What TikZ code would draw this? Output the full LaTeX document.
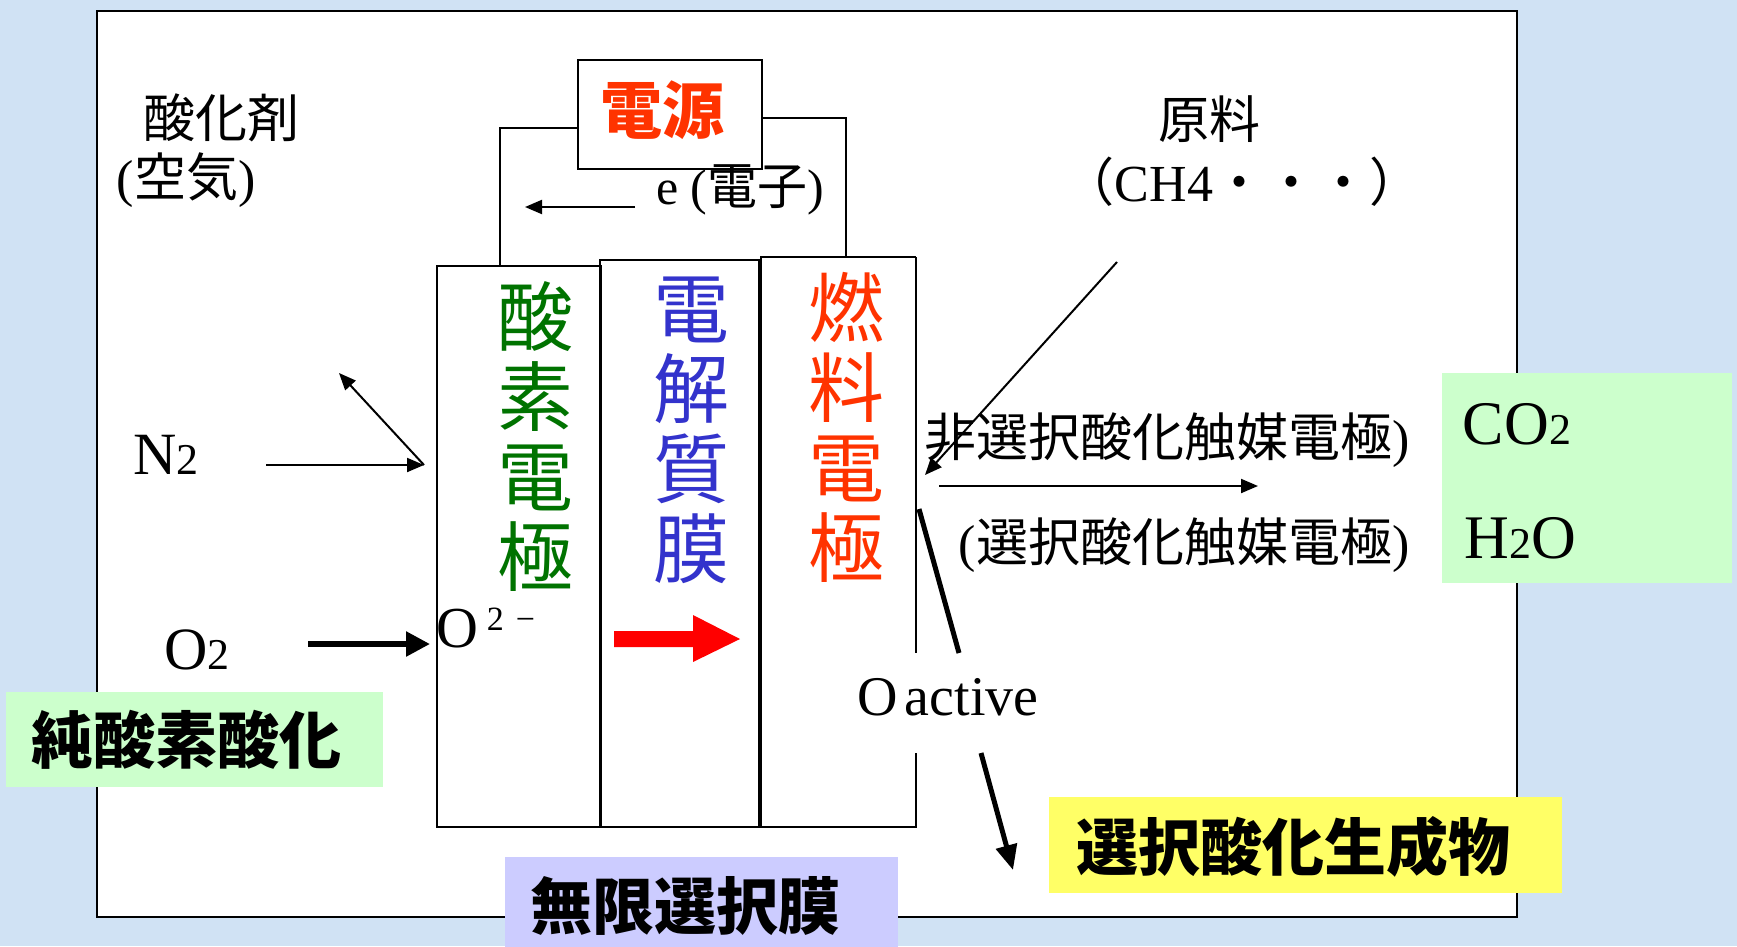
\documentclass[tikz,border=0pt]{standalone}
\usepackage{fontspec}
\setmainfont{Liberation Serif}
\newfontfamily\cjk{Noto Sans CJK JP}
\usetikzlibrary{arrows.meta}
\definecolor{bgblue}{RGB}{208,226,244}
\definecolor{sgreen}{RGB}{0,115,0}
\definecolor{sblue}{RGB}{51,51,204}
\definecolor{sred}{RGB}{255,51,0}
\definecolor{lgreen}{RGB}{204,255,204}
\definecolor{lpurple}{RGB}{204,204,255}
\definecolor{lyellow}{RGB}{255,255,102}
\newcommand{\myfs}[1]{\fontsize{#1pt}{#1pt}\selectfont}
\begin{document}
\begin{tikzpicture}[x=1pt,y=-1pt,
  every node/.style={inner sep=0pt, outer sep=0pt},
  cellbox/.style={line width=1.8pt},
  wire/.style={line width=1.8pt},
  thinarrow/.style={line width=2pt, -{Triangle[length=17pt,width=14pt]}},
  thickarrow/.style={line width=5.5pt, -{Triangle[length=24pt,width=24pt]}},
  vtext/.style={align=center, font=\cjk\fontsize{76pt}{80pt}\selectfont},
  tag/.style={font=\cjk\bfseries\myfs{62}},
  serif/.style={font=\myfs{#1}}]
\useasboundingbox (0,0) rectangle (1737,946);
\fill[bgblue] (0,0) rectangle (1737,946);
\draw[line width=2pt, fill=white] (97,11) rectangle (1517,917);

% power source
\node[draw, line width=1.8pt, minimum width=184pt, minimum height=109pt] (dengen) at (670,114.5) {};
\node[font=\cjk\bfseries\myfs{62}, text=sred] (dengentxt) at (662,110) {電源};

% cells
\node[draw, cellbox, minimum width=164pt, minimum height=561pt] (sanso) at (519,546.5) {};
\node[draw, cellbox, minimum width=159pt, minimum height=567pt] (denkai) at (679.5,543.5) {};
\node[cellbox, minimum width=155pt, minimum height=570pt] (nenryo) at (838.5,542) {};
\draw[cellbox] (nenryo.north east) -- (nenryo.north west) -- (nenryo.south west) -- (nenryo.south east) -- ++(0,-74);
\draw[cellbox] (nenryo.north east) -- ++(0,396);

\node[vtext, text=sgreen] (t1) at (535,436) {酸\\素\\電\\極};
\node[vtext, text=sblue] (t2) at (691,430) {電\\解\\質\\膜};
\node[vtext, text=sred] (t3) at (846,427) {燃\\料\\電\\極};

% wires
\draw[wire] ([yshift=-13.5pt]dengen.west) -| ([xshift=-19pt]sanso.north);
\draw[wire] ([yshift=-3.5pt]dengen.east) -| ([xshift=7.5pt]nenryo.north);

% electron
\coordinate (ea) at (635,207);
\coordinate (eb) at (525,207);
\draw[thinarrow] (ea) -- (eb);
\node[serif=50] (elab) at (740,190) {e ({\cjk 電子})};

% labels
\node[font=\cjk\myfs{52}] (oxid) at (221,118) {酸化剤};
\node[serif=52] (air) at (186,180) {({\cjk 空気})};
\node[font=\cjk\myfs{51}] (genryo) at (1209,119) {原料};
\node[serif=52] (ch4) at (1242,182) {{\cjk （}CH4{\cjk ・・・）}};

% N2
\node[serif=60] (n2) at (166,455) {N{\myfs{44}2}};
\coordinate (n2a) at (266,465);
\coordinate (n2b) at (424,465);
\coordinate (n2c) at (339,373);
\draw[thinarrow] (n2a) -- (n2b);
\draw[thinarrow] (n2b) -- (n2c);

% O2
\node[serif=60] (o2) at (197,650) {O{\myfs{44}2}};
\coordinate (o2a) at (308,644);
\coordinate (o2b) at (430,644);
\draw[thickarrow] (o2a) -- (o2b);
\node[anchor=base west, serif=58] (oion) at (436,647) {O\hspace{9pt}\raisebox{17pt}{\myfs{34}2\hspace{12pt}−}};

% red arrow
\fill[red] (614,631) -- (693,631) -- (693,615) -- (740,639) -- (693,662) -- (693,647) -- (614,647) -- cycle;

% fuel side
\coordinate (fa) at (1117,262);
\coordinate (fb) at (925,475);
\draw[thinarrow] (fa) -- (fb);
\node[serif=52] (nonsel) at (1167,440) {{\cjk 非選択酸化触媒電極})};
\coordinate (pa) at (939,486);
\coordinate (pb) at (1258,486);
\draw[thinarrow] (pa) -- (pb);
\node[serif=52] (sel) at (1184,545) {({\cjk 選択酸化触媒電極})};

\coordinate (sa) at (919,509);
\coordinate (sb) at (959,653);
\draw[line width=5pt] (sa) -- (sb);
\node[serif=56] (oact) at (948,697) {O\hspace{7pt}active};
\coordinate (sc) at (981,753);
\coordinate (sd) at (1013,870);
\draw[line width=5pt, -{Triangle[length=25pt,width=21pt]}] (sc) -- (sd);

% colored tags
\node[fill=lgreen, minimum width=377pt, minimum height=95pt] (jun) at (194.5,739.5) {};
\node[tag] (juntxt) at (186,740) {純酸素酸化};
\node[fill=lpurple, minimum width=393pt, minimum height=95pt] (mugen) at (701.5,904.5) {};
\node[tag] (mugentxt) at (685,906) {無限選択膜};
\node[fill=lgreen, minimum width=290pt, minimum height=210pt] (prod) at (1587,478) {};
\node[serif=62] (co2) at (1517,424) {CO{\myfs{44}2}};
\node[serif=62] (h2o) at (1520,538) {H{\myfs{44}2}O};
\node[fill=lyellow, minimum width=513pt, minimum height=96pt] (yel) at (1305.5,845) {};
\node[tag] (yeltxt) at (1293,847) {選択酸化生成物};
\end{tikzpicture}
\end{document}
